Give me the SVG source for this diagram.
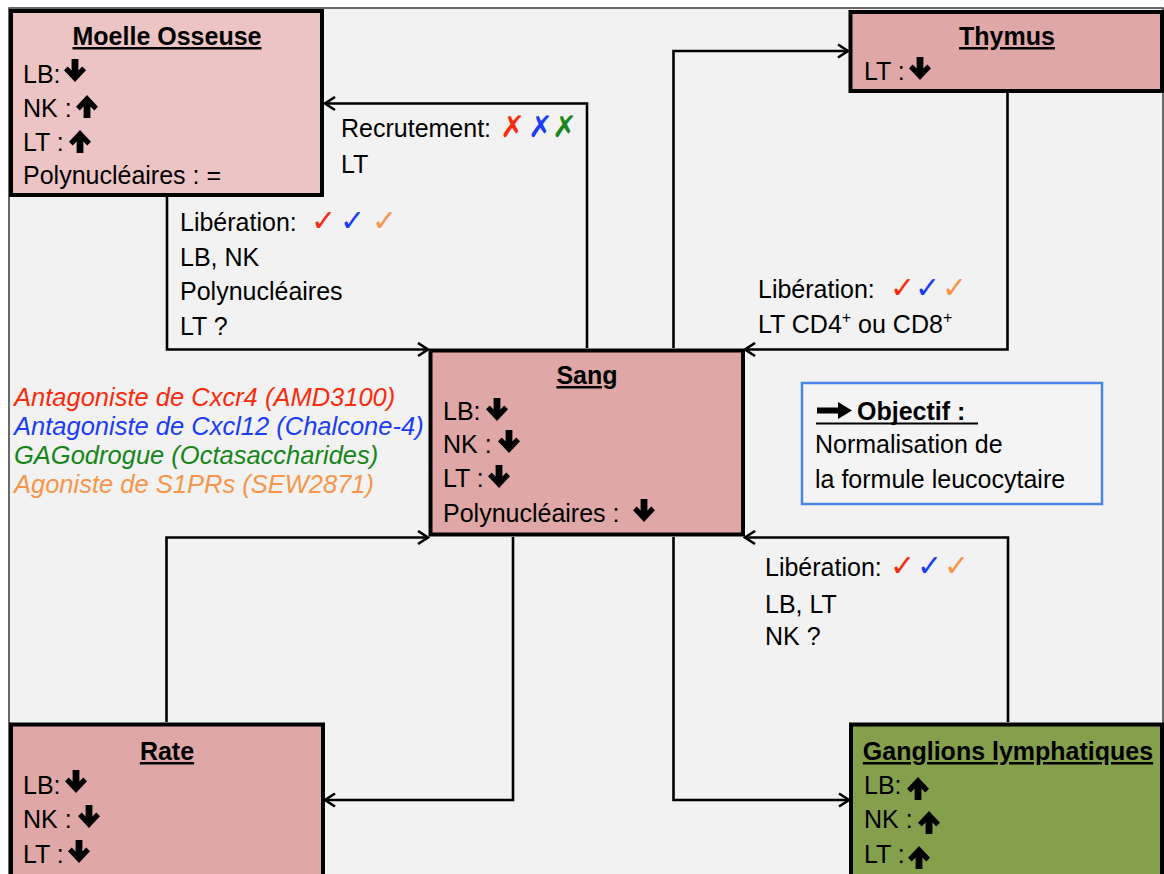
<svg xmlns="http://www.w3.org/2000/svg" width="1164" height="874" viewBox="0 0 1164 874">
<defs>
<style>
text{font-family:"Liberation Sans",Arial,sans-serif;font-size:25px;fill:#000}
.t{font-weight:bold;text-anchor:middle;text-decoration:underline}
.box{stroke:#000;stroke-width:4}
.pink{fill:#dfa7a5}
.conn path{fill:none;stroke:#000;stroke-width:2.6}
.sym{font-family:"DejaVu Sans",sans-serif;font-size:30px;font-weight:bold}
.leg{font-style:italic;font-size:25.5px}
.r{fill:#f82c0c}.b{fill:#1b3df4}.g{fill:#17861a}.o{fill:#f7964a}
</style>
<marker id="ah" markerUnits="userSpaceOnUse" markerWidth="14" markerHeight="16" viewBox="0 0 14 16" refX="12" refY="8" orient="auto">
<path d="M2,1.5 L12,8 L2,14.5" fill="none" stroke="#000" stroke-width="2.6"/>
</marker>
<path id="dn" d="M7.6,0 H14.4 V11.5 L18.3,7.5 L22,11.2 L11,23 L0,11.2 L3.7,7.5 L7.6,11.5 Z" fill="#000"/>
<path id="up" d="M7.6,23 H14.4 V11.5 L18.3,15.5 L22,11.8 L11,0 L0,11.8 L3.7,15.5 L7.6,11.5 Z" fill="#000"/>
</defs>
<rect x="0" y="0" width="1164" height="874" fill="#fff"/>
<rect x="9" y="8" width="1154" height="880" fill="#f2f2f2" stroke="#3a3a3a" stroke-width="1.5"/>

<g id="connectors" class="conn">
<path d="M167,197 V349.5 H428" marker-end="url(#ah)"/>
<path d="M587,348 V103.5 H325" marker-end="url(#ah)"/>
<path d="M673.5,348 V51 H848" marker-end="url(#ah)"/>
<path d="M1007.5,93 V349.5 H745" marker-end="url(#ah)"/>
<path d="M166.5,722 V537.5 H428" marker-end="url(#ah)"/>
<path d="M513,537 V800 H325" marker-end="url(#ah)"/>
<path d="M673.5,537 V800 H849" marker-end="url(#ah)"/>
<path d="M1008,722 V537.5 H745" marker-end="url(#ah)"/>
</g>

<g id="moelle">
<rect class="box" x="11" y="11" width="311" height="184" fill="#edc4c4"/>
<text class="t" x="167" y="45">Moelle Osseuse</text>
<text x="23" y="83">LB:</text><use href="#dn" x="64" y="59"/>
<text x="23" y="117">NK :</text><use href="#up" x="76" y="95"/>
<text x="23" y="151">LT :</text><use href="#up" x="69" y="130"/>
<text x="23" y="184">Polynucléaires : =</text>
</g>

<g id="thymus">
<rect class="box pink" x="850.5" y="12" width="311.5" height="79"/>
<text class="t" x="1007" y="45">Thymus</text>
<text x="864" y="80">LT :</text><use href="#dn" x="909" y="57"/>
</g>

<g id="sang">
<rect class="box pink" x="430.5" y="350.5" width="312.5" height="184"/>
<text class="t" x="587" y="384">Sang</text>
<text x="443" y="420">LB:</text><use href="#dn" x="486" y="398"/>
<text x="443" y="453">NK :</text><use href="#dn" x="498" y="430"/>
<text x="443" y="487">LT :</text><use href="#dn" x="488" y="465"/>
<text x="443" y="522">Polynucléaires :</text><use href="#dn" x="633" y="499"/>
</g>

<g id="rate">
<rect class="box pink" x="11" y="724.5" width="312" height="200"/>
<text class="t" x="167" y="760">Rate</text>
<text x="23" y="794">LB:</text><use href="#dn" x="65" y="770"/>
<text x="23" y="828">NK :</text><use href="#dn" x="78" y="805"/>
<text x="23" y="863">LT :</text><use href="#dn" x="68" y="840"/>
</g>

<g id="ganglions">
<rect class="box" x="851" y="724.5" width="311" height="200" fill="#84a04c"/>
<text class="t" x="1008" y="760">Ganglions lymphatiques</text>
<text x="864" y="794">LB:</text><use href="#up" x="907" y="777"/>
<text x="864" y="828">NK :</text><use href="#up" x="918" y="811"/>
<text x="864" y="863">LT :</text><use href="#up" x="908" y="846"/>
</g>

<g id="label-recrutement">
<text x="341" y="137">Recrutement:</text>
<text class="sym r" x="500" y="137">✗</text>
<text class="sym b" x="528" y="137">✗</text>
<text class="sym g" x="552" y="137">✗</text>
<text x="341" y="173">LT</text>
</g>

<g id="label-liberation-moelle">
<text x="180" y="231">Libération:</text>
<text class="sym r" x="311" y="231">✓</text>
<text class="sym b" x="340" y="231">✓</text>
<text class="sym o" x="372" y="231">✓</text>
<text x="180" y="266">LB, NK</text>
<text x="180" y="300">Polynucléaires</text>
<text x="180" y="335">LT ?</text>
</g>

<g id="label-liberation-thymus">
<text x="758" y="298">Libération:</text>
<text class="sym r" x="890" y="298">✓</text>
<text class="sym b" x="915" y="298">✓</text>
<text class="sym o" x="942" y="298">✓</text>
<text x="758" y="333">LT CD4<tspan font-size="16" dy="-10">+</tspan><tspan dy="10"> ou CD8</tspan><tspan font-size="16" dy="-10">+</tspan></text>
</g>

<g id="label-liberation-ganglions">
<text x="765" y="576">Libération:</text>
<text class="sym r" x="890" y="576">✓</text>
<text class="sym b" x="917" y="576">✓</text>
<text class="sym o" x="944" y="576">✓</text>
<text x="765" y="613">LB, LT</text>
<text x="765" y="645">NK ?</text>
</g>

<g id="legend">
<text class="leg r" x="14" y="406">Antagoniste de Cxcr4 (AMD3100)</text>
<text class="leg b" x="14" y="435">Antagoniste de Cxcl12 (Chalcone-4)</text>
<text class="leg g" x="14" y="464">GAGodrogue (Octasaccharides)</text>
<text class="leg o" x="14" y="493">Agoniste de S1PRs (SEW2871)</text>
</g>

<g id="objectif">
<rect x="802" y="383" width="300" height="121" fill="#f4f4f4" stroke="#4a86e8" stroke-width="2.5"/>
<path d="M817,407.5 H838 V402 L852,410.5 L838,419 V413.5 H817 Z" fill="#000"/>
<text x="857" y="420" font-weight="bold" font-size="27">Objectif :</text>
<line x1="816" y1="423.5" x2="978" y2="423.5" stroke="#000" stroke-width="2"/>
<text x="815" y="453">Normalisation de</text>
<text x="815" y="488">la formule leucocytaire</text>
</g>
</svg>
